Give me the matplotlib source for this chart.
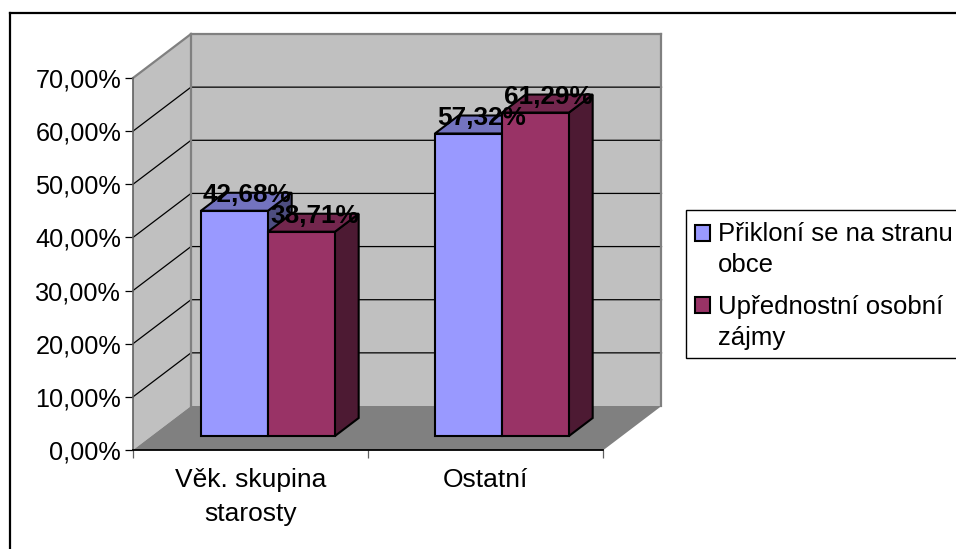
import matplotlib
matplotlib.use("Agg")
import matplotlib.pyplot as plt
from matplotlib.patches import Polygon, Patch, Rectangle
from matplotlib.lines import Line2D

plt.rcParams['font.family'] = ['Liberation Sans', 'DejaVu Sans']

categories = ["Věk. skupina\nstarosty", "Ostatní"]
series_names = ["Přikloní se na stranu\nobce", "Upřednostní osobní\nzájmy"]
priklon = [42.68, 57.32]
upred = [38.71, 61.29]
y_ticks = [0, 10, 20, 30, 40, 50, 60, 70]
y_tick_labels = ["0,00%", "10,00%", "20,00%", "30,00%", "40,00%", "50,00%", "60,00%", "70,00%"]

W, H = 956, 549
fig = plt.figure(figsize=(W / 100, H / 100), dpi=100, facecolor="white")
L, R, B, T = 133, 603.5, 450, 78
ax = fig.add_axes([L / W, 1 - B / H, (R - L) / W, (B - T) / H])
ax.set_xlim(0, 2)
ax.set_ylim(0, 70)
ax.patch.set_visible(False)

# oblique depth, expressed in data units
px_x = (R - L) / 2
px_y = (B - T) / 70
DX = 58 / px_x
DY = 44 / px_y


def proj(x, y, d):
    return (x + d * DX, y + d * DY)


def poly(pts, **kw):
    kw.setdefault("clip_on", False)
    ax.add_patch(Polygon(pts, closed=True, **kw))


WALL = "#C0C0C0"
EDGE = "#808080"
# walls and floor
poly([proj(0, 0, 1), proj(2, 0, 1), proj(2, 70, 1), proj(0, 70, 1)], fc=WALL, ec="none", zorder=1)
poly([proj(0, 0, 0), proj(0, 0, 1), proj(0, 70, 1), proj(0, 70, 0)], fc=WALL, ec="none", zorder=1)
poly([proj(0, 0, 0), proj(2, 0, 0), proj(2, 0, 1), proj(0, 0, 1)], fc=EDGE, ec="none", zorder=2)

for v in y_ticks[1:-1]:
    a, b, c = proj(0, v, 0), proj(0, v, 1), proj(2, v, 1)
    ax.plot([a[0], b[0], c[0]], [a[1], b[1], c[1]], color="black", lw=0.9, clip_on=False, zorder=1.5)

# wall edges
for p, q in [(proj(0, 0, 1), proj(0, 70, 1)), (proj(0, 70, 1), proj(2, 70, 1)),
             (proj(2, 70, 1), proj(2, 0, 1)), (proj(0, 70, 0), proj(0, 70, 1))]:
    ax.plot([p[0], q[0]], [p[1], q[1]], color=EDGE, lw=1.6, clip_on=False, zorder=1.8,
            solid_capstyle="projecting")

# bars
BAR_W = 67 / px_x
BAR_STEP = 234 / px_x
START = (50.0 - 0.5) / px_x
SCALE = 0.993
D0, D1 = 14 / 44, 32 / 44
BLK = dict(ec="black", lw=1.5, joinstyle="miter", zorder=3)


def shade(rgb, f):
    return tuple(c * f for c in rgb)


def bar3d(x, v, rgb):
    x1 = x + BAR_W
    v = v * SCALE
    poly([proj(x1, 0, D0), proj(x1, 0, D1), proj(x1, v, D1), proj(x1, v, D0)], fc=shade(rgb, 0.5), **BLK)
    poly([proj(x, v, D0), proj(x1, v, D0), proj(x1, v, D1), proj(x, v, D1)], fc=shade(rgb, 0.75), **BLK)
    poly([proj(x, 0, D0), proj(x1, 0, D0), proj(x1, v, D0), proj(x, v, D0)], fc=rgb, **BLK)


BLUE = (0x99 / 255, 0x99 / 255, 1.0)
MAROON = (0x99 / 255, 0x33 / 255, 0x66 / 255)
for i in range(len(categories)):
    bar3d(i * BAR_STEP + START, priklon[i], BLUE)
    bar3d(i * BAR_STEP + START + BAR_W, upred[i], MAROON)

for i in range(len(categories)):
    for j, vals in enumerate([priklon, upred]):
        x = i * BAR_STEP + START + j * BAR_W + BAR_W / 2
        px, py = proj(x, vals[i] * SCALE, (D0 + D1) / 2)
        ax.annotate(f"{vals[i]:.2f}%".replace(".", ","), (px, py), xytext=(0.7, 5),
                    textcoords="offset points", ha="center", va="center",
                    fontsize=18.8, fontweight="bold", color="black", zorder=6, annotation_clip=False)

# axes
for s in ("top", "right"):
    ax.spines[s].set_visible(False)
ax.spines["left"].set_color("#606060")
ax.spines["left"].set_linewidth(1.2)
ax.spines["bottom"].set_color("black")
ax.spines["bottom"].set_linewidth(1.3)
ax.spines["left"].set_zorder(2.5)
ax.spines["bottom"].set_zorder(2.5)

ax.set_yticks(y_ticks)
ax.set_yticklabels(y_tick_labels, fontsize=18.2)
ax.tick_params(axis="y", length=6, width=0.9, pad=2.5, color="black")
ax.set_xticks([0, 1, 2])
ax.set_xticklabels([])
ax.tick_params(axis="x", which="major", length=6, width=0.9, color="#606060")
ax.set_xticks([i + 0.5 for i in range(len(categories))], minor=True)
ax.set_xticklabels(categories, minor=True, fontsize=19, linespacing=1.5)
ax.tick_params(axis="x", which="minor", length=0, pad=13)

# legend box, running off the right edge as in the source picture
fig.add_artist(Rectangle((685.5 / W, 1 - 358 / H), 300 / W, 148 / H, transform=fig.transFigure,
                         fc="white", ec="black", lw=1.0, zorder=1))

handles = [Patch(fc=BLUE, ec="black", lw=1.5), Patch(fc=MAROON, ec="black", lw=1.5)]
leg = fig.legend(handles, series_names, loc="upper left", bbox_to_anchor=(695 / W, 1 - 222 / H),
                 bbox_transform=fig.transFigure, borderaxespad=0, fontsize=18.5, frameon=False,
                 handlelength=0.58, handleheight=0.58,
                 handletextpad=0.3, labelspacing=0.67, borderpad=0)
leg.set_zorder(2)
for t in leg.get_texts():
    t.set_linespacing(1.39)
for h in leg.legend_handles:
    h.set_y(h.get_y() + 12.5)

# chart frame: only its top and left edges fall inside the picture
for xs, ys in [((10, 956), (13, 13)), ((10, 10), (13, 549))]:
    fig.add_artist(Line2D([x / W for x in xs], [1 - y / H for y in ys], transform=fig.transFigure,
                          color="black", lw=1.6, solid_capstyle="projecting", zorder=10))

fig.savefig("out.png", dpi=100)
